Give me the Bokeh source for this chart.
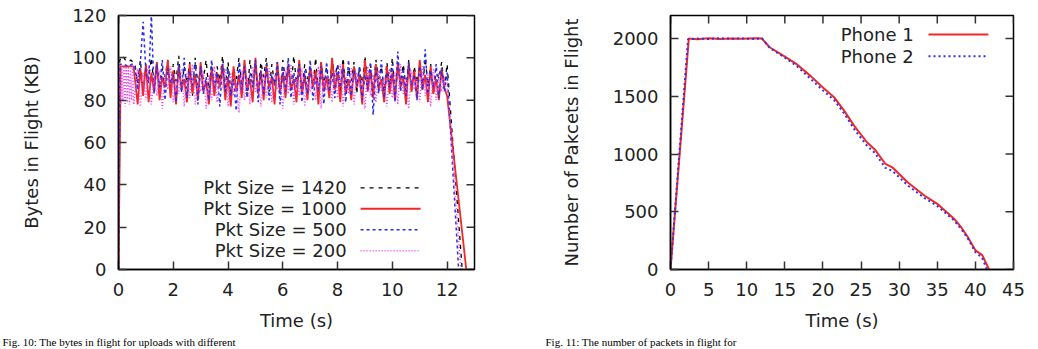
from bokeh.plotting import figure
from bokeh.models import FixedTicker, Label, Arrow, Range1d, Title
from bokeh.layouts import row
from bokeh.embed import file_html
from bokeh.resources import INLINE

FONT = "DejaVu Sans"
SERIF = "Liberation Serif"
TXT = "#222222"

# ---------------- Fig. 10 data (Bytes in flight, KB) ----------------
t_grid = [0.6, 0.7, 0.8, 0.9, 1.0, 1.1, 1.2, 1.3, 1.4, 1.5, 1.6, 1.7, 1.8, 1.9, 2.0,
          2.1, 2.2, 2.3, 2.4, 2.5, 2.6, 2.7, 2.8, 2.9, 3.0, 3.1, 3.2, 3.3, 3.4, 3.5,
          3.6, 3.7, 3.8, 3.9, 4.0, 4.1, 4.2, 4.3, 4.4, 4.5, 4.6, 4.7, 4.8, 4.9, 5.0,
          5.1, 5.2, 5.3, 5.4, 5.5, 5.6, 5.7, 5.8, 5.9, 6.0, 6.1, 6.2, 6.3, 6.4, 6.5,
          6.6, 6.7, 6.8, 6.9, 7.0, 7.1, 7.2, 7.3, 7.4, 7.5, 7.6, 7.7, 7.8, 7.9, 8.0,
          8.1, 8.2, 8.3, 8.4, 8.5, 8.6, 8.7, 8.8, 8.9, 9.0, 9.1, 9.2, 9.3, 9.4, 9.5,
          9.6, 9.7, 9.8, 9.9, 10.0, 10.1, 10.2, 10.3, 10.4, 10.5, 10.6, 10.7, 10.8, 10.9, 11.0,
          11.1, 11.2, 11.3, 11.4, 11.5, 11.6, 11.7, 11.8, 11.9, 12.0]

t_start_1420 = [0, 0.05, 0.15, 0.25, 0.35, 0.45]
kb_start_1420 = [0, 99, 101, 99, 98, 99]
kb_mid_1420 = [97, 88, 99, 84, 96, 90, 100, 86, 98, 83,
               95, 91, 99, 85, 97, 89, 101, 84, 96, 88,
               98, 82, 100, 87, 95, 90, 99, 85, 97, 83,
               96, 89, 101, 86, 98, 84, 95, 90, 100, 87,
               97, 82, 99, 88, 96, 85, 98, 91, 100, 84,
               97, 87, 95, 83, 99, 89, 96, 85, 101, 88,
               98, 84, 97, 90, 95, 86, 100, 83, 98, 88,
               96, 85, 99, 91, 97, 84, 100, 87, 95, 89,
               98, 83, 96, 86, 101, 88, 97, 85, 99, 90,
               96, 84, 98, 87, 100, 83, 95, 89, 97, 86,
               99, 84, 96, 88, 98, 85, 100, 87, 97, 83,
               95, 90, 98, 86, 97]
t_end_1420 = [12.55]
kb_end_1420 = [0]

t_start_1000 = [0, 0.08, 0.55]
kb_start_1000 = [0, 96, 96]
kb_mid_1000 = [90, 78, 95, 82, 97, 79, 93, 84, 98, 80,
               91, 86, 99, 81, 94, 78, 96, 85, 90, 79,
               97, 83, 92, 80, 98, 84, 89, 78, 95, 82,
               93, 86, 97, 80, 91, 77, 96, 84, 92, 81,
               99, 85, 90, 79, 100, 83, 94, 80, 96, 86,
               91, 78, 98, 84, 93, 81, 97, 85, 90, 79,
               99, 83, 92, 80, 96, 86, 94, 78, 98, 84,
               91, 81, 100, 85, 93, 79, 97, 83, 90, 80,
               96, 86, 92, 78, 99, 84, 94, 81, 97, 85,
               90, 79, 96, 83, 93, 80, 98, 86, 91, 78,
               97, 84, 94, 81, 99, 85, 92, 79, 96, 83,
               90, 80, 95, 86, 82]
t_end_1000 = [12.7]
kb_end_1000 = [0]

t_start_500 = [0, 0.06, 0.2, 0.35, 0.5]
kb_start_500 = [0, 97, 97, 96, 97]
kb_mid_500 = [96, 85, 98, 117, 94, 88, 121, 83, 97, 86,
              99, 80, 95, 88, 92, 79, 97, 84, 100, 81,
              94, 87, 98, 78, 96, 83, 91, 80, 99, 86,
              93, 77, 97, 84, 95, 82, 90, 75, 98, 85,
              96, 81, 93, 86, 99, 79, 94, 83, 97, 80,
              92, 87, 98, 78, 95, 84, 100, 81, 93, 86,
              97, 79, 94, 83, 99, 80, 91, 85, 96, 78,
              98, 84, 93, 81, 97, 86, 95, 79, 99, 82,
              94, 87, 96, 80, 92, 85, 98, 73, 95, 83,
              99, 81, 93, 86, 97, 79, 103, 84, 95, 82,
              98, 87, 92, 80, 96, 85, 104, 83, 94, 86,
              97, 81, 95, 84, 93]
t_end_500 = [12.42]
kb_end_500 = [0]

t_start_200 = [0, 0.03, 0.08, 0.12, 0.16, 0.2, 0.24, 0.28, 0.32, 0.36, 0.4, 0.44, 0.48, 0.52, 0.56]
kb_start_200 = [0, 96, 78, 96, 80, 96, 77, 96, 79, 96, 78, 95, 80, 96, 78]
kb_mid_200 = [84, 95, 77, 93, 80, 96, 78, 91, 82, 94,
              76, 92, 85, 96, 79, 90, 83, 95, 77, 93,
              81, 97, 78, 89, 84, 94, 76, 92, 80, 96,
              79, 90, 86, 95, 77, 93, 82, 88, 74, 94,
              80, 91, 78, 96, 84, 89, 77, 93, 81, 95,
              79, 92, 85, 90, 76, 94, 83, 97, 78, 91,
              82, 95, 77, 89, 84, 93, 80, 96, 76, 92,
              85, 90, 79, 94, 81, 97, 77, 91, 83, 95,
              78, 93, 86, 89, 76, 96, 82, 92, 79, 94,
              84, 90, 77, 95, 81, 93, 78, 97, 83, 91,
              76, 94, 85, 90, 79, 96, 82, 92, 77, 95,
              80, 93, 84, 91, 88]
t_end_200 = [12.5]
kb_end_200 = [0]

labels_10 = ["Pkt Size = 1420", "Pkt Size = 1000", "Pkt Size = 500", "Pkt Size = 200"]
xticks_10 = [0, 2, 4, 6, 8, 10, 12]
yticks_10 = [0, 20, 40, 60, 80, 100, 120]
caption_10 = "Fig. 10: The bytes in flight for uploads with different"

# ---------------- Fig. 11 data (packets in flight) ----------------
t_phone1 = [0, 2.4, 3.5, 5, 6.5, 8, 9.5, 11, 12, 13, 14.9, 16.6, 18.4, 20.1, 21.5,
            22.8, 24.1, 25.8, 26.8, 28.2, 29.1, 31.1, 33.3, 35.0, 37.2, 38.2, 39.0,
            40.0, 40.9, 41.8]
pk_phone1 = [0, 2000, 1995, 2002, 1996, 2001, 1998, 2003, 2000, 1925, 1848, 1776, 1675, 1569, 1489,
             1374, 1244, 1100, 1040, 914, 885, 756, 641, 569, 440, 360, 282,
             167, 124, 0]
t_phone2 = [0, 2.3, 3.5, 5, 6.5, 8, 9.5, 11, 12, 13, 14.9, 16.6, 18.4, 20.1, 21.5,
            22.8, 24.1, 25.8, 26.8, 28.2, 29.1, 31.1, 33.3, 35.0, 37.2, 38.2, 39.0,
            40.0, 40.9, 41.5]
pk_phone2 = [0, 1995, 2000, 1997, 2003, 1999, 2001, 1997, 2002, 1920, 1840, 1760, 1650, 1545, 1465,
             1350, 1215, 1070, 1010, 880, 855, 730, 620, 550, 425, 345, 270,
             150, 100, 0]
labels_11 = ["Phone 1", "Phone 2"]
xticks_11 = [0, 5, 10, 15, 20, 25, 30, 35, 40, 45]
yticks_11 = [0, 500, 1000, 1500, 2000]
caption_11 = "Fig. 11: The number of packets in flight for"

TICK_PX = 8


def style_axis(ax, ticks):
    ax.ticker = FixedTicker(ticks=ticks)
    ax.major_tick_in = TICK_PX
    ax.major_tick_out = 0
    ax.major_tick_line_color = "#333333"
    ax.major_tick_line_width = 1.5
    ax.minor_tick_line_color = None
    ax.axis_line_color = "black"
    ax.axis_line_width = 1.5
    ax.major_label_text_font = FONT
    ax.major_label_text_color = TXT
    ax.major_label_text_font_size = "18px"
    ax.axis_label_text_font = FONT
    ax.axis_label_text_font_size = "18px"
    ax.axis_label_text_font_style = "normal"
    ax.axis_label_text_color = TXT


def make_fig(width, xr, yr, xticks, yticks, xlabel, ylabel, bl, br, bt, bb, ylab_standoff,
             cap_text, cap_offset):
    p = figure(width=width, height=349, output_backend="svg", toolbar_location=None,
               x_range=Range1d(*xr), y_range=Range1d(*yr),
               min_border_left=bl, min_border_right=br, min_border_top=bt, min_border_bottom=bb)
    p.xgrid.visible = False
    p.ygrid.visible = False
    p.outline_line_color = "black"
    p.outline_line_width = 1.5
    p.outline_line_alpha = 1.0
    p.background_fill_color = "white"
    p.border_fill_color = "white"
    style_axis(p.xaxis[0], xticks)
    style_axis(p.yaxis[0], yticks)
    p.xaxis[0].axis_label = xlabel
    p.yaxis[0].axis_label = ylabel
    p.xaxis[0].major_label_standoff = 13
    p.xaxis[0].axis_label_standoff = 11
    p.yaxis[0].major_label_standoff = 12
    p.yaxis[0].axis_label_standoff = ylab_standoff
    # figure caption, below the x axis
    p.add_layout(Title(text=cap_text, align="left", offset=cap_offset, standoff=0,
                       text_font=SERIF, text_font_size="11px", text_font_style="normal",
                       text_color="black"), "below")
    # mirrored inward ticks on the top and right edges of the frame
    fw = width - bl - br
    fh = 349 - bt - bb
    dx = TICK_PX * (xr[1] - xr[0]) / fw
    dy = TICK_PX * (yr[1] - yr[0]) / fh
    p.segment(x0=xticks, y0=[yr[1]] * len(xticks), x1=xticks, y1=[yr[1] - dy] * len(xticks),
              line_color="#333333", line_width=1.5)
    p.segment(x0=[xr[1]] * len(yticks), y0=yticks, x1=[xr[1] - dx] * len(yticks), y1=yticks,
              line_color="#333333", line_width=1.5)
    return p


# ---------------- Fig. 10 ----------------
p1 = make_fig(520, (0, 13), (0, 120), xticks_10, yticks_10, "Time (s)", "Bytes in Flight (KB)",
              118, 46, 15, 79, 27, caption_10, -116)

series10 = [
    (t_start_1420 + t_grid + t_end_1420, kb_start_1420 + kb_mid_1420 + kb_end_1420, "black", "4 5", 1.3),
    (t_start_1000 + t_grid + t_end_1000, kb_start_1000 + kb_mid_1000 + kb_end_1000, "#f02828", "solid", 1.8),
    (t_start_500 + t_grid + t_end_500, kb_start_500 + kb_mid_500 + kb_end_500, "#2a2af0", "3 3", 1.5),
    (t_start_200 + t_grid + t_end_200, kb_start_200 + kb_mid_200 + kb_end_200, "#f040f0", "1 2", 1.5),
]
leg_y10 = [38.6, 28.7, 18.8, 8.9]
for (xs, ys, col, dash, lw), lab, ly in zip(series10, labels_10, leg_y10):
    p1.line(xs, ys, line_color=col, line_dash=dash, line_width=lw)
    p1.add_layout(Label(x=8.33, y=ly, text=lab, text_align="right", text_baseline="middle",
                        text_font=FONT, text_font_size="18px", text_color=TXT))
    p1.add_layout(Arrow(end=None, x_start=8.84, y_start=ly, x_end=11.03, y_end=ly,
                        line_color=col, line_dash=dash, line_width=lw))

# ---------------- Fig. 11 ----------------
p2 = make_fig(518, (0, 45), (0, 2200), xticks_11, yticks_11, "Time (s)", "Number of Pakcets in Flight",
              150, 25, 14, 80, 28, caption_11, -125)
series11 = [
    (t_phone1, pk_phone1, "#f02828", "solid", 2.0),
    (t_phone2, pk_phone2, "#3030f0", "2 3", 2.0),
]
leg_y11 = [2036, 1846]
for (xs, ys, col, dash, lw), lab, ly in zip(series11, labels_11, leg_y11):
    p2.line(xs, ys, line_color=col, line_dash=dash, line_width=lw)
    p2.add_layout(Label(x=31.9, y=ly, text=lab, text_align="right", text_baseline="middle",
                        text_font=FONT, text_font_size="18px", text_color=TXT))
    p2.add_layout(Arrow(end=None, x_start=33.85, y_start=ly, x_end=41.7, y_end=ly,
                        line_color=col, line_dash=dash, line_width=lw))

layout = row(p1, p2, spacing=0)
open("out.html", "w").write(file_html(layout, INLINE))
